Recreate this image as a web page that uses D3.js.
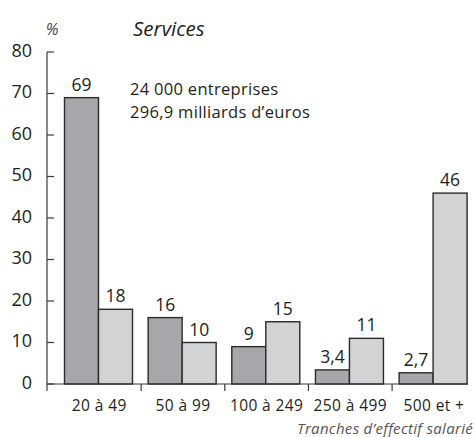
<!DOCTYPE html>
<html><head><meta charset="utf-8">
<script src="https://cdn.jsdelivr.net/npm/d3@7"></script>
<style>body{margin:0;background:#fff}svg{display:block}text{font-family:"Open Sans",Lato,sans-serif;fill:#231f20}</style>
</head><body><svg id="c" width="474" height="437"></svg>
<script>
const categories = ["20 à 49","50 à 99","100 à 249","250 à 499","500 et +"];
const seriesNames = ["entreprises","valeur"];
const darkValues = [69,16,9,3.4,2.7];
const lightValues = [18,10,15,11,46];
const yTicks = [0,10,20,30,40,50,60,70,80];
const title = "Services";
const unitLabel = "%";
const noteLines = ["24 000 entreprises","296,9 milliards d\u2019euros"];
const xTitle = "Tranches d\u2019effectif salarié";

const svg = d3.select("#c");
const y = d3.scaleLinear().domain([0,80]).range([384,52]);
const x = d3.scaleBand().domain(categories).range([57.5,475.75]).padding(0);
const xs = d3.scaleBand().domain(seriesNames).range([7,75]).padding(0);
const fills = {entreprises:"#a6a7aa", valeur:"#d2d3d5"};
const fmt = v => String(v).replace(".", ",");

const rows = categories.map((c,i)=>({c, vals:[{s:"entreprises",v:darkValues[i]},{s:"valeur",v:lightValues[i]}]}));

const g = svg.selectAll("g.cat").data(rows).join("g").attr("class","cat")
  .attr("transform", d=>`translate(${x(d.c)},0)`);
g.selectAll("rect").data(d=>d.vals).join("rect")
  .attr("x", d=>xs(d.s)).attr("width", xs.bandwidth())
  .attr("y", d=>y(d.v)).attr("height", d=>y(0)-y(d.v))
  .attr("fill", d=>fills[d.s]).attr("stroke","#2b2b2b").attr("stroke-width",1.4);
g.selectAll("text.val").data(d=>d.vals).join("text").attr("class","val")
  .attr("x", d=>xs(d.s)+xs.bandwidth()/2).attr("y", d=>y(d.v)-7)
  .attr("text-anchor","middle").attr("font-size",17.5).text(d=>fmt(d.v));

// y axis
const ya = svg.append("g").attr("transform","translate(47,0)");
ya.append("line").attr("y1",y(80)).attr("y2",y(0)).attr("stroke","#3a3a3a").attr("stroke-width",1.2);
ya.selectAll("line.t").data(yTicks).join("line").attr("class","t")
  .attr("x1",0).attr("x2",7).attr("y1",d=>y(d)).attr("y2",d=>y(d)).attr("stroke","#3a3a3a").attr("stroke-width",1.2);
ya.selectAll("text").data(yTicks).join("text")
  .attr("x",-15).attr("y",d=>y(d)+4.5).attr("text-anchor","end").attr("font-size",18).text(d=>d);

// x axis
const xa = svg.append("g");
xa.append("line").attr("x1",47).attr("x2",468).attr("y1",y(0)).attr("y2",y(0)).attr("stroke","#3a3a3a").attr("stroke-width",1.2);
const bounds = [47].concat(categories.slice(1).map(c=>x(c)));
xa.selectAll("line.t").data(bounds).join("line").attr("class","t")
  .attr("x1",d=>d).attr("x2",d=>d).attr("y1",y(0)).attr("y2",y(0)+7).attr("stroke","#3a3a3a").attr("stroke-width",1.2);
xa.selectAll("text").data(categories).join("text")
  .attr("x",d=>x(d)+x.bandwidth()/2).attr("y",411).attr("text-anchor","middle").attr("font-size",15.5).attr("letter-spacing",0.4).text(d=>d);

svg.append("text").attr("x",52).attr("y",35).attr("text-anchor","middle").attr("font-size",16).attr("font-style","italic").style("fill","#444").text(unitLabel);
svg.append("text").attr("x",133).attr("y",36).attr("font-size",20.5).attr("font-style","italic").text(title);
svg.selectAll("text.note").data(noteLines).join("text").attr("class","note")
  .attr("x",130).attr("y",(d,i)=>95+i*23).attr("font-size",16.5).attr("letter-spacing",0.3).text(d=>d);
svg.append("text").attr("x",473).attr("y",434).attr("text-anchor","end").attr("font-size",15).attr("letter-spacing",0.3).attr("font-style","italic").style("fill","#555").text(xTitle);
</script></body></html>
